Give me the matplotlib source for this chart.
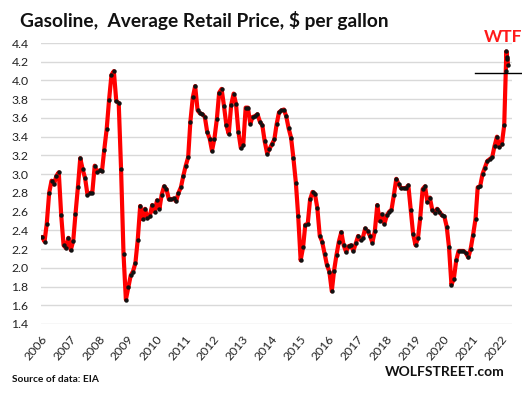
import matplotlib
matplotlib.use('Agg')
import matplotlib.pyplot as plt
import matplotlib.transforms as mtrans
import pandas as pd

plt.rcParams['font.family'] = ['Lato', 'DejaVu Sans']

# monthly averages, regular gasoline, $ per gallon (Jan 2006 - Feb 2022)
prices_2006 = [2.33, 2.28, 2.47, 2.80, 2.93, 2.89, 2.98, 3.02, 2.56, 2.24, 2.21, 2.32]
prices_2007 = [2.19, 2.29, 2.57, 2.86, 3.17, 3.05, 2.96, 2.78, 2.80, 2.80, 3.09, 3.02]
prices_2008 = [3.04, 3.03, 3.26, 3.48, 3.79, 4.06, 4.10, 3.78, 3.76, 3.05, 2.15, 1.66]
prices_2009 = [1.79, 1.92, 1.96, 2.05, 2.30, 2.66, 2.52, 2.63, 2.53, 2.55, 2.67, 2.60]
prices_2010 = [2.72, 2.63, 2.78, 2.87, 2.84, 2.73, 2.73, 2.74, 2.71, 2.80, 2.86, 2.98]
prices_2011 = [3.09, 3.18, 3.56, 3.82, 3.94, 3.68, 3.65, 3.64, 3.61, 3.45, 3.38, 3.25]
prices_2012 = [3.38, 3.59, 3.87, 3.91, 3.73, 3.52, 3.43, 3.74, 3.86, 3.75, 3.45, 3.28]
prices_2013 = [3.31, 3.71, 3.71, 3.54, 3.61, 3.62, 3.64, 3.56, 3.52, 3.35, 3.22, 3.27]
prices_2014 = [3.32, 3.37, 3.53, 3.66, 3.68, 3.69, 3.62, 3.49, 3.39, 3.17, 2.91, 2.55]
prices_2015 = [2.08, 2.22, 2.46, 2.47, 2.73, 2.81, 2.79, 2.64, 2.34, 2.28, 2.15, 2.03]
prices_2016 = [1.96, 1.75, 1.97, 2.14, 2.28, 2.38, 2.24, 2.17, 2.23, 2.24, 2.18, 2.26]
prices_2017 = [2.34, 2.30, 2.32, 2.42, 2.39, 2.34, 2.27, 2.39, 2.67, 2.50, 2.57, 2.47]
prices_2018 = [2.56, 2.60, 2.62, 2.78, 2.95, 2.89, 2.85, 2.85, 2.85, 2.88, 2.62, 2.36]
prices_2019 = [2.24, 2.32, 2.53, 2.84, 2.87, 2.70, 2.75, 2.62, 2.59, 2.63, 2.60, 2.56]
prices_2020 = [2.55, 2.44, 2.22, 1.82, 1.88, 2.08, 2.18, 2.18, 2.18, 2.16, 2.11, 2.20]
prices_2021 = [2.35, 2.52, 2.86, 2.87, 3.00, 3.07, 3.14, 3.16, 3.18, 3.30, 3.40, 3.29]
prices_2022 = [3.32, 3.52]

# weekly prices at the end, March/April 2022
tail_dates = ['2022-03-07', '2022-03-14', '2022-03-21', '2022-03-28', '2022-04-04']
tail_prices = [4.10, 4.31, 4.25, 4.23, 4.17]

year_ticks = list(range(2006, 2023))
y_ticks = [1.4, 1.6, 1.8, 2.0, 2.2, 2.4, 2.6, 2.8, 3.0, 3.2, 3.4, 3.6, 3.8, 4.0, 4.2, 4.4]

monthly = (prices_2006 + prices_2007 + prices_2008 + prices_2009 + prices_2010 +
           prices_2011 + prices_2012 + prices_2013 + prices_2014 + prices_2015 +
           prices_2016 + prices_2017 + prices_2018 + prices_2019 + prices_2020 +
           prices_2021 + prices_2022)
month_dates = pd.date_range('2006-01-01', periods=len(monthly), freq='MS') + pd.Timedelta(days=14)
dates = list(month_dates) + list(pd.to_datetime(tail_dates))
prices = monthly + tail_prices

fig = plt.figure(figsize=(5.22, 3.94), dpi=100)
ax = fig.add_axes([41 / 522, 1 - 324 / 394, (512 - 41) / 522, (324 - 43) / 394])

ax.plot(dates, prices, color='#ff0000', lw=3.0, solid_capstyle='round',
        marker='o', markersize=3.2, markerfacecolor='#111111',
        markeredgewidth=0, zorder=3)

ax.set_ylim(1.4, 4.4)
ax.set_yticks(y_ticks)
ax.set_yticklabels(['%.1f' % v for v in y_ticks])
ax.set_xlim(pd.Timestamp('2006-01-01'), pd.Timestamp('2022-05-25'))
ax.set_xticks([pd.Timestamp('%d-01-01' % y) for y in year_ticks])
ax.set_xticklabels([str(y) for y in year_ticks], rotation=50, ha='right',
                   va='top', rotation_mode='anchor')
ax.grid(axis='y', color='#d9d9d9', lw=1.0)
ax.set_axisbelow(True)
for s in ax.spines.values():
    s.set_visible(False)
ax.tick_params(axis='both', length=0, labelsize=8.8, colors='#222222')
ax.tick_params(axis='x', pad=7)
ax.tick_params(axis='y', pad=9)

fig.text(20 / 522, 1 - 21 / 394, 'Gasoline,  Average Retail Price, $ per gallon',
         fontsize=13.8, fontweight='bold', ha='left', va='center', color='#111111')

# WTF marker
fig.text(503 / 522, 1 - 37 / 394, 'WTF', fontsize=12.5, fontweight='bold',
         color='#ff1a1a', ha='center', va='center')
trans = mtrans.blended_transform_factory(ax.transAxes, ax.transData)
ax.plot([(475 - 41) / 471, (522 - 41) / 471], [4.08, 4.08], color='black',
        lw=1.0, transform=trans, clip_on=False, zorder=4)

fig.text(12 / 522, 1 - 380 / 394, 'Source of data: EIA', fontsize=7.3,
         fontweight='bold', ha='left', va='center', color='#111111')
fig.text(505 / 522, 1 - 372 / 394, 'WOLFSTREET.com', fontsize=10,
         fontweight='bold', ha='right', va='center', color='#111111')

plt.savefig('out.png', dpi=100)
plt.close()
